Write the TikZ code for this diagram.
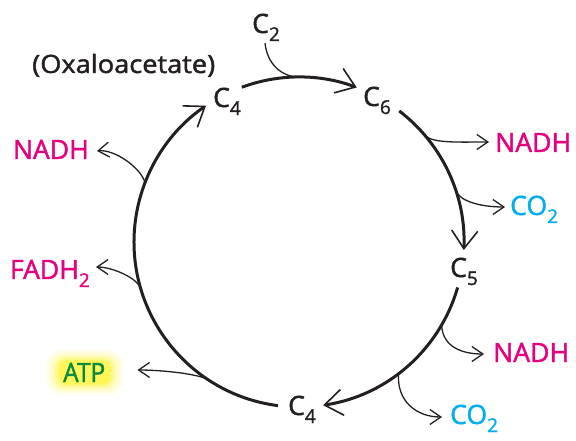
\documentclass[tikz,border=0pt]{standalone}
\usepackage{fontspec}
\setmainfont{Open Sans}
\newfontfamily\lblfont{Open Sans}[FakeBold=1.6]
\usetikzlibrary{arrows.meta}
\pgfdeclarelayer{bg}
\pgfsetlayers{bg,main}
\definecolor{ink}{HTML}{231F20}
\definecolor{nadh}{HTML}{E6007E}
\definecolor{cotwo}{HTML}{00AEEF}
\definecolor{atpg}{HTML}{0A8A3E}
\definecolor{glowy}{HTML}{FFF200}
\newcommand\lsub[1]{\raisebox{-8bp}{\fontsize{19bp}{19bp}\selectfont #1}}
\begin{document}
\begin{tikzpicture}[x=1bp,y=1bp,
  lab/.style={inner sep=0pt, anchor=base west, text=ink, font=\lblfont\fontsize{26.6bp}{30bp}\selectfont},
  main/.style={line width=3bp, draw=ink, -{Straight Barb[length=18bp,width=26bp,line width=1.6bp]}},
  branch/.style={line width=1.3bp, draw=ink, -{Straight Barb[length=11bp,width=15bp,line width=1.3bp]}},
  glow/.style={fill=glowy, draw=none, inner sep=0pt}
]
\useasboundingbox (0,0) rectangle (576,-441);

% labels
\node[lab] (c2) at (252,-33) {C\lsub{2}};
\node[lab, font=\lblfont\fontsize{25.2bp}{30bp}\selectfont] (oxa) at (32,-73) {\scalebox{1.08}[1]{(Oxaloacetate)}};
\node[lab] (c4t) at (213,-107) {C\lsub{4}};
\node[lab] (c6) at (363,-106) {C\lsub{6}};
\node[lab] (c5) at (450,-277) {C\lsub{5}};
\node[lab] (c4b) at (288,-415) {C\lsub{4}};
\node[lab, text=nadh] (n1) at (495,-152) {NADH};
\node[lab, text=cotwo] (co1) at (510,-215) {CO\lsub{2}};
\node[lab, text=nadh] (n2) at (493,-362) {NADH};
\node[lab, text=cotwo] (co2) at (450,-424) {CO\lsub{2}};
\node[lab, text=nadh, anchor=base east] (n3) at (89,-159) {NADH};
\node[lab, text=nadh, anchor=base east] (fadh) at (90,-279) {FADH\lsub{2}};
\node[lab, text=atpg] (atp) at (63,-382) {\scalebox{0.92}[1]{ATP}};

\begin{pgfonlayer}{bg}
  \foreach \i/\w/\h/\op in {1/78/46/0.07, 2/72/40/0.09, 3/66/35/0.12, 4/61/31/0.16, 5/56/27/0.22, 6/51/24/0.3}{
    \node[glow, fill opacity=\op, rounded corners=\h*0.35 bp, minimum width=\w bp, minimum height=\h bp] (g\i) at ([xshift=0.5bp]atp.center) {};
  }
\end{pgfonlayer}

% cycle
\coordinate (O) at (299,-242);
\draw[main] (O) ++(110.3:165) arc[start angle=110.3, end angle=69.5, radius=165];
\draw[main] (O) ++(52.6:165) arc[start angle=52.6, end angle=-2.8, radius=165];
\draw[main] (O) ++(-16:165) arc[start angle=-16, end angle=-81.6, radius=165];
\draw[main] (O) ++(-97.3:165) arc[start angle=-97.3, end angle=-235.7, radius=165];

% branch points
\path (O) ++(90:165) coordinate (bj);
\path (O) ++(40.2:165) coordinate (b1);
\path (O) ++(18:165) coordinate (b2);
\path (O) ++(-30.2:165) coordinate (b3);
\path (O) ++(-52.9:165) coordinate (b4);
\path (O) ++(-124:165) coordinate (b5);
\path (O) ++(-163:165) coordinate (b6);
\path (O) ++(159:165) coordinate (b7);

% input branch
\draw[line width=1.3bp, draw=ink] ([shift={(-1bp,-2bp)}]c2.south) .. controls +(2,-20) and +(-18,0) .. (bj);
% output branches
\draw[branch] (b1) .. controls +(8,-8) and +(-30,0) .. ([shift={(-6bp,10bp)}]n1.base west);
\draw[branch] (b2) .. controls +(4,-10) and +(-25,0) .. ([shift={(-5bp,8bp)}]co1.base west);
\draw[branch] (b3) .. controls +(1,-22) and +(-22,0) .. ([shift={(-9bp,8bp)}]n2.base west);
\draw[branch] (b4) .. controls +(-2,-28) and +(-25,0) .. ([shift={(-8bp,7bp)}]co2.base west);
\draw[branch] (b5) .. controls +(-15,6) and +(20,0) .. ([shift={(32bp,12bp)}]atp.base east);
\draw[branch] (b6) .. controls +(-2,12) and +(16,0) .. ([shift={(6bp,12bp)}]fadh.base east);
\draw[branch] (b7) .. controls +(-3,14) and +(18,2) .. ([shift={(8bp,8bp)}]n3.base east);
\end{tikzpicture}
\end{document}
